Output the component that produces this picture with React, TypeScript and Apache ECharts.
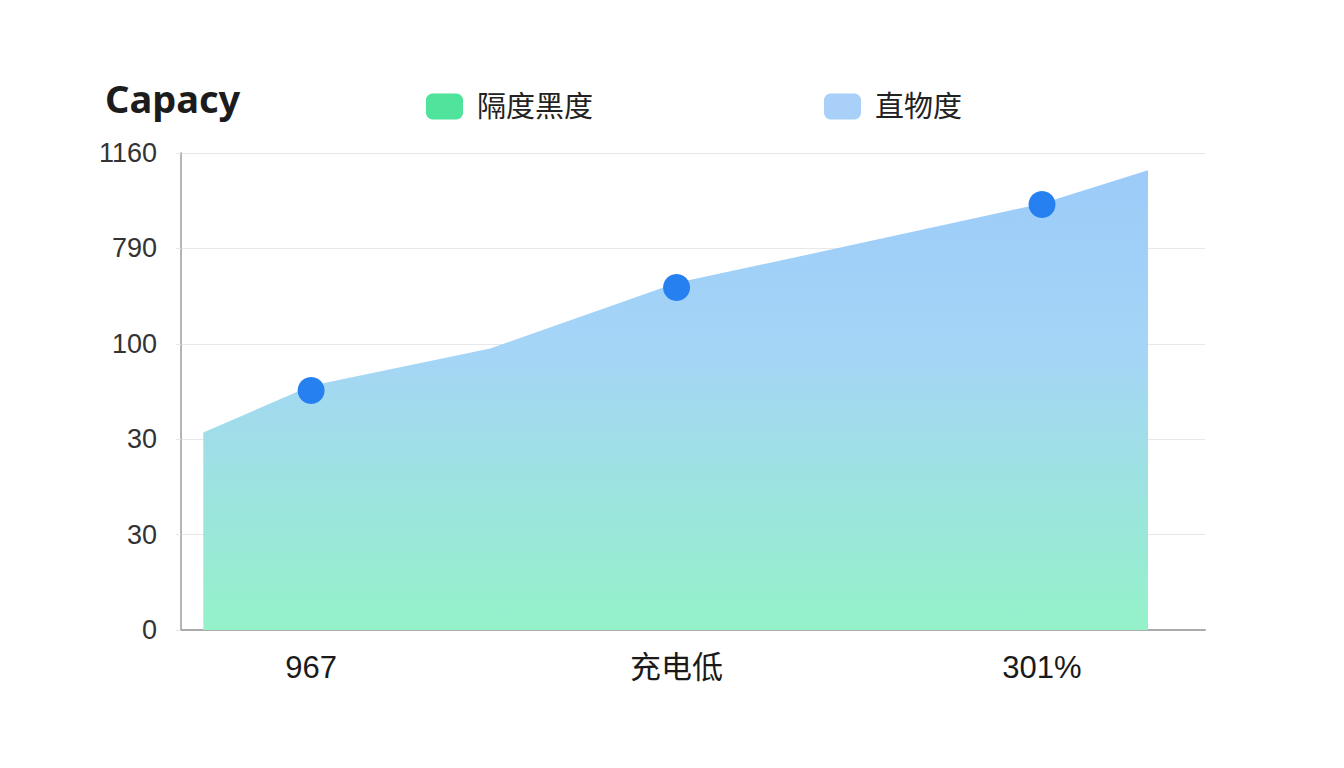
import * as echarts from "echarts";
import { useEffect, useRef } from "react";

const yTickLabels = ["0", "30", "30", "100", "790", "1160"];
const xCategories = ["967", "充电低", "301%"];
// area outline, x in category units (1 = first category), y in tick steps
const areaX = [0.705, 1, 1.49, 2.001, 2.414, 3, 3.29];
const areaY = [2.07, 2.56, 2.95, 3.64, 3.98, 4.47, 4.82];
const markerY = [2.51, 3.59, 4.46];

const fontFamily = "'Liberation Sans', 'Noto Sans CJK SC', sans-serif";
const titleFont = "'Noto Sans', sans-serif";
const textColor = "#222222";

export default function App() {
  const ref = useRef<HTMLDivElement | null>(null);

  useEffect(() => {
    if (!ref.current) return;
    const chart = echarts.init(ref.current, undefined, { renderer: "svg" });
    const legendBase = {
      top: 87,
      icon: "roundRect",
      itemWidth: 37,
      itemHeight: 26,
      textStyle: { fontSize: 29, color: textColor, fontFamily, padding: [0, 0, 0, 9] },
    };
    chart.setOption({
      animation: false,
      backgroundColor: "#ffffff",
      textStyle: { fontFamily },
      title: {
        text: "Capacy",
        left: 100,
        top: 74,
        textStyle: { fontSize: 38, fontWeight: "bold", color: "#1c1c1c", fontFamily: titleFont },
      },
      legend: [
        { ...legendBase, left: 421, data: [{ name: "隔度黑度", itemStyle: { color: "#4fe39b" } }] },
        { ...legendBase, left: 819, data: [{ name: "直物度", itemStyle: { color: "#a8d0f8" } }] },
      ],
      grid: { left: 181, right: 139, top: 153, bottom: 138 },
      xAxis: {
        type: "value",
        min: 0.644,
        max: 3.446,
        splitLine: { show: false },
        axisTick: { show: false },
        axisLine: { show: true, lineStyle: { color: "#ababab", width: 2 } },
        axisLabel: {
          customValues: [1, 2, 3],
          formatter: (v: number) => xCategories[Math.round(v) - 1] ?? "",
          fontSize: 31,
          color: "#1a1a1a",
          margin: 22,
          fontFamily,
        },
      },
      yAxis: {
        type: "value",
        min: 0,
        max: 5,
        interval: 1,
        axisLine: { show: true, lineStyle: { color: "#b5b5b5", width: 2 } },
        axisTick: { show: true, length: 5, lineStyle: { color: "#e6e6e6" } },
        splitLine: { lineStyle: { color: "#e8e8e8", width: 1 } },
        axisLabel: {
          formatter: (v: number) => yTickLabels[Math.round(v)] ?? "",
          fontSize: 27,
          color: "#333333",
          margin: 24,
          fontFamily,
        },
      },
      series: [
        {
          name: "直物度",
          type: "line",
          data: areaX.map((x, i) => [x, areaY[i]]),
          symbol: "none",
          lineStyle: { width: 0 },
          areaStyle: {
            opacity: 1,
            color: new echarts.graphic.LinearGradient(0, 0, 0, 1, [
              { offset: 0, color: "#9ccbf9" },
              { offset: 0.4, color: "#a5d5f6" },
              { offset: 1, color: "#94f2c9" },
            ]),
          },
          z: 2,
        },
        {
          name: "隔度黑度",
          type: "scatter",
          data: markerY.map((y, i) => [i + 1, y]),
          symbolSize: 27,
          itemStyle: { color: "#2680f0", opacity: 1 },
          z: 3,
        },
      ],
    });
    return () => chart.dispose();
  }, []);

  return <div ref={ref} style={{ position: "fixed", left: 0, top: 0, width: 1344, height: 768 }} />;
}
